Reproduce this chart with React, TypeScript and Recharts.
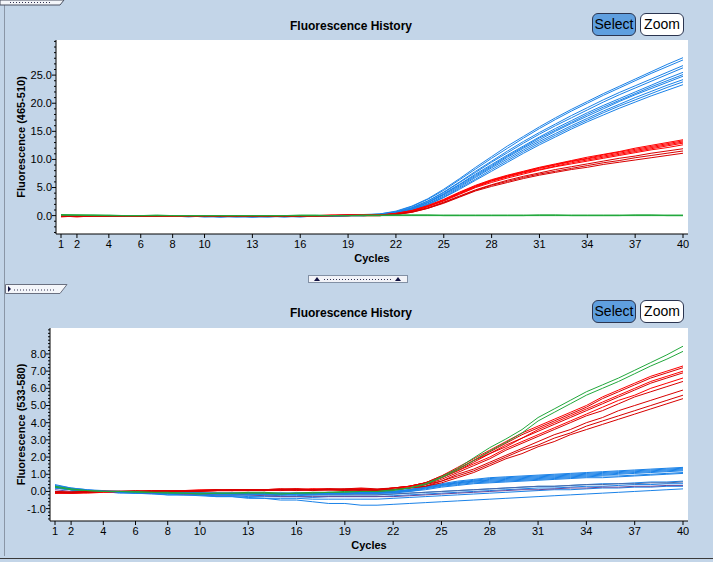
import React from 'react';
import { LineChart, Line, XAxis, YAxis, CartesianGrid, Label } from 'recharts';

const FONT = '"Liberation Sans", Arial, Helvetica, sans-serif';

const cycles = [1, 2, 3, 4, 5, 6, 7, 8, 9, 10, 11, 12, 13, 14, 15, 16, 17, 18, 19, 20, 21, 22, 23, 24, 25, 26, 27, 28, 29, 30, 31, 32, 33, 34, 35, 36, 37, 38, 39, 40];
const xTicks = [1, 2, 4, 6, 8, 10, 13, 16, 19, 22, 25, 28, 31, 34, 37, 40];

const topYTicks = [-3, -2, -1, 0, 1, 2, 3, 4, 5, 6, 7, 8, 9, 10, 11, 12, 13, 14, 15, 16, 17, 18, 19, 20, 21, 22, 23, 24, 25, 26, 27, 28, 29, 30, 31];
const topYMajor = [0, 5, 10, 15, 20, 25];
const botYTicks = [-1.6, -1.4, -1.2, -1.0, -0.8, -0.6, -0.4, -0.2, 0, 0.2, 0.4, 0.6, 0.8, 1.0, 1.2, 1.4, 1.6, 1.8, 2.0, 2.2, 2.4, 2.6, 2.8, 3.0, 3.2, 3.4, 3.6, 3.8, 4.0, 4.2, 4.4, 4.6, 4.8, 5.0, 5.2, 5.4, 5.6, 5.8, 6.0, 6.2, 6.4, 6.6, 6.8, 7.0, 7.2, 7.4, 7.6, 7.8, 8.0, 8.2, 8.4, 8.6, 8.8, 9.0, 9.2, 9.4];
const botYMajor = [-1, 0, 1, 2, 3, 4, 5, 6, 7, 8];

// ---------- Top panel: Fluorescence (465-510) ----------
const topBlue = [
  [0.0, -0.1, -0.1, 0.0, 0.0, -0.1, 0.0, 0.0, -0.1, -0.1, -0.2, -0.1, -0.2, -0.2, -0.1, -0.1, 0.0, 0.0, 0.1, 0.2, 0.3, 0.8, 1.7, 3.0, 4.7, 6.6, 8.6, 10.5, 12.4, 14.1, 15.8, 17.4, 18.9, 20.3, 21.7, 23.0, 24.3, 25.6, 26.9, 28.1],
  [0.0, 0.0, -0.1, -0.1, 0.0, 0.0, -0.1, 0.0, -0.1, -0.2, -0.2, -0.2, -0.1, -0.1, -0.2, -0.1, -0.1, 0.0, 0.0, 0.1, 0.3, 0.7, 1.6, 2.9, 4.5, 6.4, 8.3, 10.2, 12.0, 13.8, 15.5, 17.1, 18.6, 20.0, 21.4, 22.7, 24.0, 25.3, 26.5, 27.7],
  [-0.1, -0.1, 0.0, 0.0, -0.1, -0.1, 0.0, -0.1, -0.1, -0.1, -0.2, -0.2, -0.2, -0.1, -0.1, -0.2, -0.1, 0.0, 0.0, 0.1, 0.2, 0.6, 1.4, 2.6, 4.2, 6.0, 7.9, 9.7, 11.5, 13.2, 14.8, 16.3, 17.8, 19.2, 20.6, 21.9, 23.1, 24.3, 25.5, 26.7],
  [0.0, 0.0, 0.0, -0.1, -0.1, 0.0, 0.0, -0.1, -0.2, -0.1, -0.1, -0.2, -0.2, -0.2, -0.1, -0.1, -0.1, -0.1, 0.0, 0.1, 0.2, 0.6, 1.4, 2.6, 4.1, 5.9, 7.7, 9.5, 11.2, 12.9, 14.5, 16.0, 17.4, 18.8, 20.2, 21.5, 22.7, 23.9, 25.1, 26.3],
  [-0.1, 0.0, 0.0, 0.0, -0.1, -0.1, -0.1, 0.0, 0.0, -0.1, -0.2, -0.1, -0.1, -0.2, -0.2, -0.1, 0.0, 0.0, 0.0, 0.1, 0.2, 0.5, 1.3, 2.4, 3.9, 5.6, 7.4, 9.1, 10.8, 12.4, 14.0, 15.5, 16.9, 18.3, 19.6, 20.8, 22.0, 23.2, 24.4, 25.5],
  [0.0, -0.1, -0.1, -0.1, 0.0, 0.0, 0.0, -0.1, -0.1, -0.2, -0.1, -0.1, -0.2, -0.1, -0.1, -0.1, -0.1, 0.0, 0.1, 0.1, 0.2, 0.5, 1.2, 2.3, 3.8, 5.5, 7.2, 8.9, 10.6, 12.2, 13.8, 15.2, 16.6, 18.0, 19.3, 20.5, 21.7, 22.9, 24.0, 25.1],
  [0.0, 0.0, -0.1, 0.0, 0.0, -0.1, -0.1, -0.1, 0.0, -0.1, -0.1, -0.2, -0.2, -0.1, -0.2, -0.2, -0.1, -0.1, 0.0, 0.0, 0.1, 0.5, 1.2, 2.3, 3.7, 5.3, 7.0, 8.7, 10.4, 12.0, 13.5, 15.0, 16.4, 17.7, 19.0, 20.3, 21.5, 22.6, 23.7, 24.8],
  [-0.1, -0.1, 0.0, -0.1, -0.1, 0.0, -0.1, 0.0, -0.1, -0.1, -0.2, -0.1, -0.1, -0.1, -0.2, -0.1, -0.1, 0.0, 0.0, 0.0, 0.1, 0.4, 1.1, 2.1, 3.5, 5.1, 6.8, 8.5, 10.1, 11.7, 13.2, 14.6, 16.0, 17.3, 18.6, 19.8, 21.0, 22.1, 23.2, 24.2],
  [0.0, 0.0, 0.0, 0.0, -0.1, -0.1, 0.0, -0.1, -0.1, -0.2, -0.2, -0.1, -0.2, -0.2, -0.1, -0.1, 0.0, -0.1, 0.0, 0.0, 0.1, 0.4, 1.0, 2.0, 3.3, 4.9, 6.5, 8.2, 9.8, 11.4, 12.9, 14.3, 15.7, 17.0, 18.3, 19.5, 20.6, 21.7, 22.8, 23.8],
  [-0.1, 0.0, -0.1, -0.1, 0.0, -0.1, -0.1, -0.1, -0.2, -0.1, -0.1, -0.1, -0.2, -0.1, -0.1, -0.2, -0.1, -0.1, 0.0, 0.0, 0.1, 0.4, 1.0, 1.9, 3.2, 4.7, 6.3, 7.9, 9.5, 11.1, 12.6, 14.0, 15.4, 16.7, 17.9, 19.1, 20.2, 21.3, 22.3, 23.3],
];

const topRed = [
  [-0.1, -0.1, 0.0, 0.0, 0.0, -0.1, -0.1, 0.0, 0.0, 0.0, -0.1, -0.1, 0.0, -0.1, -0.1, 0.0, 0.0, 0.1, 0.1, 0.1, 0.1, 0.4, 0.9, 1.8, 2.9, 4.2, 5.4, 6.4, 7.2, 7.9, 8.6, 9.2, 9.8, 10.4, 10.9, 11.4, 12.0, 12.5, 13.0, 13.5],
  [-0.1, -0.2, -0.1, 0.0, 0.0, 0.0, -0.1, -0.1, 0.0, 0.0, 0.0, -0.1, -0.1, 0.0, -0.1, -0.1, 0.0, 0.0, 0.1, 0.1, 0.1, 0.4, 0.9, 1.7, 2.8, 4.1, 5.3, 6.3, 7.1, 7.8, 8.5, 9.1, 9.7, 10.2, 10.8, 11.3, 11.8, 12.3, 12.8, 13.3],
  [-0.2, -0.1, -0.1, -0.1, 0.0, 0.0, 0.0, -0.1, -0.1, 0.0, 0.0, 0.0, -0.1, -0.1, 0.0, 0.0, -0.1, 0.0, 0.0, 0.1, 0.1, 0.3, 0.8, 1.7, 2.7, 4.0, 5.2, 6.2, 7.0, 7.7, 8.4, 9.0, 9.6, 10.1, 10.6, 11.1, 11.6, 12.1, 12.6, 13.1],
  [-0.1, -0.1, 0.0, 0.0, -0.1, -0.1, 0.0, 0.0, 0.0, -0.1, -0.1, 0.0, 0.0, 0.0, -0.1, 0.0, 0.0, 0.1, 0.1, 0.1, 0.1, 0.3, 0.8, 1.6, 2.7, 3.9, 5.1, 6.1, 6.9, 7.6, 8.2, 8.8, 9.4, 9.9, 10.4, 10.9, 11.4, 11.9, 12.4, 12.9],
  [-0.1, -0.1, -0.1, 0.0, 0.0, 0.0, 0.0, -0.1, 0.0, 0.0, -0.1, -0.1, -0.1, 0.0, 0.0, -0.1, 0.0, 0.0, 0.0, 0.1, 0.1, 0.3, 0.8, 1.6, 2.6, 3.8, 5.0, 5.9, 6.7, 7.4, 8.1, 8.7, 9.2, 9.7, 10.2, 10.7, 11.2, 11.7, 12.1, 12.6],
  [-0.1, -0.2, -0.1, -0.1, 0.0, -0.1, 0.0, 0.0, -0.1, 0.0, 0.0, 0.0, -0.1, -0.1, -0.1, 0.0, 0.0, 0.0, 0.1, 0.0, 0.0, 0.2, 0.7, 1.4, 2.4, 3.5, 4.6, 5.5, 6.3, 7.0, 7.6, 8.2, 8.7, 9.2, 9.7, 10.2, 10.6, 11.1, 11.5, 11.9],
  [-0.1, -0.1, 0.0, -0.1, -0.1, 0.0, 0.0, 0.0, 0.0, -0.1, 0.0, -0.1, 0.0, 0.0, -0.1, -0.1, 0.0, 0.0, 0.0, 0.0, 0.0, 0.2, 0.6, 1.3, 2.3, 3.4, 4.5, 5.4, 6.1, 6.8, 7.4, 7.9, 8.4, 8.9, 9.4, 9.8, 10.3, 10.7, 11.1, 11.5],
  [-0.2, -0.1, -0.1, 0.0, 0.0, -0.1, -0.1, 0.0, 0.0, 0.0, -0.1, 0.0, 0.0, -0.1, 0.0, 0.0, -0.1, 0.0, 0.0, 0.0, 0.0, 0.2, 0.6, 1.3, 2.2, 3.3, 4.4, 5.2, 5.9, 6.6, 7.2, 7.7, 8.2, 8.6, 9.1, 9.5, 9.9, 10.3, 10.7, 11.1],
];

const topGreen = [
  [0.1, 0.1, 0.1, 0.0, 0.0, 0.0, 0.0, 0.0, 0.0, 0.0, 0.0, 0.0, 0.0, 0.0, 0.0, 0.0, 0.0, 0.0, 0.0, 0.0, 0.0, 0.0, 0.0, 0.0, 0.0, 0.0, 0.0, 0.0, 0.0, 0.0, 0.0, 0.0, 0.0, 0.0, 0.0, 0.0, 0.0, 0.0, 0.0, 0.0],
  [0.2, 0.1, 0.1, 0.1, 0.0, 0.0, 0.0, 0.0, 0.0, 0.0, 0.0, 0.0, 0.0, 0.0, 0.0, 0.0, 0.0, 0.0, 0.0, 0.0, 0.0, 0.1, 0.1, 0.1, 0.0, 0.0, 0.0, 0.0, 0.0, 0.0, 0.1, 0.1, 0.0, 0.0, 0.0, 0.0, 0.1, 0.1, 0.0, 0.0],
  [0.1, 0.1, 0.0, 0.0, 0.0, 0.0, 0.1, 0.0, 0.0, 0.0, 0.0, 0.0, 0.0, 0.0, 0.0, 0.1, 0.1, 0.0, 0.0, 0.1, 0.1, 0.1, 0.1, 0.1, 0.1, 0.1, 0.1, 0.1, 0.1, 0.1, 0.1, 0.1, 0.1, 0.1, 0.1, 0.1, 0.1, 0.1, 0.1, 0.1],
];

// ---------- Bottom panel: Fluorescence (533-580) ----------
const botGreen = [
  [0.3, 0.15, 0.05, 0.0, 0.0, 0.0, -0.05, -0.05, -0.1, -0.1, -0.1, -0.1, -0.05, -0.05, -0.1, -0.1, -0.05, -0.05, 0.0, 0.0, 0.0, 0.1, 0.2, 0.45, 0.85, 1.35, 1.95, 2.55, 3.05, 3.6, 4.3, 4.8, 5.3, 5.8, 6.2, 6.6, 7.05, 7.5, 7.95, 8.45],
  [0.25, 0.1, 0.05, 0.0, 0.0, -0.05, -0.05, -0.1, -0.1, -0.15, -0.1, -0.1, -0.1, -0.1, -0.15, -0.1, -0.1, -0.05, -0.05, 0.0, 0.0, 0.05, 0.2, 0.4, 0.8, 1.25, 1.8, 2.35, 2.85, 3.4, 4.1, 4.6, 5.1, 5.6, 6.0, 6.4, 6.85, 7.3, 7.7, 8.15],
];

const botRed = [
  [-0.05, -0.1, -0.05, 0.0, 0.0, 0.0, 0.0, 0.05, 0.05, 0.1, 0.1, 0.05, 0.1, 0.1, 0.15, 0.1, 0.15, 0.15, 0.1, 0.15, 0.1, 0.2, 0.3, 0.5, 0.9, 1.4, 1.9, 2.4, 2.9, 3.4, 3.8, 4.2, 4.6, 5.0, 5.5, 5.9, 6.3, 6.7, 7.0, 7.3],
  [0.0, -0.05, -0.05, 0.0, 0.0, 0.05, 0.0, 0.0, 0.05, 0.05, 0.1, 0.1, 0.1, 0.05, 0.1, 0.15, 0.1, 0.1, 0.15, 0.15, 0.1, 0.2, 0.3, 0.5, 0.9, 1.3, 1.8, 2.3, 2.8, 3.3, 3.7, 4.1, 4.5, 4.9, 5.4, 5.8, 6.2, 6.6, 6.9, 7.2],
  [-0.1, -0.1, -0.05, -0.05, 0.0, 0.0, 0.05, 0.05, 0.0, 0.05, 0.05, 0.1, 0.05, 0.1, 0.1, 0.1, 0.15, 0.1, 0.1, 0.1, 0.1, 0.2, 0.3, 0.5, 0.8, 1.3, 1.8, 2.2, 2.7, 3.1, 3.6, 4.0, 4.4, 4.8, 5.2, 5.6, 6.0, 6.4, 6.7, 7.0],
  [-0.05, -0.05, 0.0, 0.0, 0.0, 0.0, 0.0, 0.0, 0.05, 0.05, 0.05, 0.1, 0.1, 0.1, 0.05, 0.1, 0.1, 0.15, 0.15, 0.2, 0.15, 0.2, 0.3, 0.5, 0.8, 1.2, 1.7, 2.2, 2.6, 3.1, 3.5, 3.9, 4.3, 4.7, 5.1, 5.5, 5.9, 6.3, 6.6, 6.9],
  [-0.1, -0.1, -0.1, -0.05, 0.0, 0.0, 0.0, 0.0, 0.0, 0.05, 0.05, 0.05, 0.1, 0.1, 0.1, 0.15, 0.1, 0.1, 0.1, 0.15, 0.1, 0.1, 0.3, 0.4, 0.8, 1.2, 1.6, 2.0, 2.5, 2.9, 3.3, 3.7, 4.1, 4.5, 4.9, 5.3, 5.6, 6.0, 6.3, 6.6],
  [0.0, -0.05, 0.0, 0.0, 0.0, 0.0, 0.05, 0.05, 0.05, 0.0, 0.05, 0.1, 0.1, 0.1, 0.15, 0.15, 0.1, 0.15, 0.1, 0.1, 0.1, 0.1, 0.2, 0.4, 0.7, 1.1, 1.5, 1.9, 2.4, 2.8, 3.2, 3.6, 4.0, 4.4, 4.7, 5.1, 5.5, 5.8, 6.1, 6.4],
  [-0.05, -0.1, -0.05, 0.0, 0.0, 0.0, 0.0, 0.0, 0.0, 0.05, 0.1, 0.05, 0.05, 0.1, 0.1, 0.1, 0.1, 0.1, 0.05, 0.1, 0.05, 0.1, 0.2, 0.4, 0.6, 1.0, 1.3, 1.7, 2.1, 2.5, 2.9, 3.3, 3.6, 4.0, 4.3, 4.7, 5.0, 5.3, 5.6, 5.9],
  [-0.1, -0.05, 0.0, 0.0, 0.0, 0.0, 0.0, 0.05, 0.05, 0.05, 0.05, 0.05, 0.1, 0.05, 0.1, 0.1, 0.05, 0.1, 0.1, 0.1, 0.05, 0.1, 0.2, 0.3, 0.6, 0.9, 1.2, 1.6, 2.0, 2.4, 2.7, 3.1, 3.4, 3.8, 4.1, 4.4, 4.7, 5.0, 5.3, 5.6],
  [-0.05, -0.05, -0.05, 0.0, 0.0, 0.0, 0.0, 0.0, 0.0, 0.0, 0.05, 0.05, 0.05, 0.05, 0.1, 0.05, 0.1, 0.1, 0.1, 0.05, 0.0, 0.1, 0.2, 0.3, 0.5, 0.8, 1.1, 1.5, 1.9, 2.2, 2.6, 2.9, 3.3, 3.6, 3.9, 4.2, 4.5, 4.8, 5.1, 5.4],
];

const botBlue = [
  [0.4, 0.2, 0.1, 0.05, 0.0, 0.0, 0.0, -0.05, -0.1, -0.1, -0.1, -0.1, -0.1, -0.1, -0.15, -0.1, -0.1, -0.1, -0.1, -0.1, -0.05, 0.0, 0.1, 0.3, 0.45, 0.6, 0.7, 0.8, 0.85, 0.9, 0.95, 1.0, 1.05, 1.1, 1.15, 1.2, 1.25, 1.3, 1.35, 1.4],
  [0.35, 0.2, 0.1, 0.0, 0.0, 0.0, -0.05, -0.05, -0.05, -0.1, -0.1, -0.15, -0.1, -0.1, -0.1, -0.1, -0.15, -0.1, -0.1, -0.1, -0.05, 0.0, 0.1, 0.25, 0.4, 0.55, 0.65, 0.75, 0.8, 0.85, 0.9, 0.95, 1.0, 1.05, 1.1, 1.15, 1.2, 1.25, 1.3, 1.35],
  [0.3, 0.15, 0.05, 0.0, 0.0, -0.05, -0.05, -0.05, -0.1, -0.1, -0.15, -0.1, -0.1, -0.15, -0.1, -0.1, -0.1, -0.05, -0.1, -0.05, -0.05, 0.0, 0.1, 0.25, 0.4, 0.5, 0.6, 0.7, 0.75, 0.8, 0.85, 0.9, 0.95, 1.0, 1.05, 1.1, 1.15, 1.2, 1.25, 1.3],
  [0.25, 0.15, 0.05, 0.0, -0.05, -0.05, -0.05, -0.1, -0.1, -0.1, -0.1, -0.1, -0.15, -0.15, -0.15, -0.1, -0.1, -0.1, -0.1, -0.1, -0.1, -0.05, 0.05, 0.2, 0.35, 0.5, 0.6, 0.65, 0.7, 0.75, 0.8, 0.85, 0.9, 0.95, 1.0, 1.05, 1.1, 1.15, 1.2, 1.25],
  [0.3, 0.1, 0.05, 0.0, 0.0, 0.0, -0.05, -0.05, -0.05, -0.1, -0.1, -0.1, -0.1, -0.1, -0.1, -0.15, -0.1, -0.1, -0.15, -0.1, -0.1, -0.05, 0.05, 0.2, 0.35, 0.45, 0.55, 0.6, 0.65, 0.7, 0.75, 0.8, 0.85, 0.9, 0.95, 1.0, 1.05, 1.1, 1.15, 1.2],
  [0.2, 0.1, 0.0, 0.0, 0.0, -0.05, -0.1, -0.1, -0.1, -0.15, -0.15, -0.15, -0.1, -0.15, -0.2, -0.15, -0.15, -0.15, -0.1, -0.1, -0.1, -0.05, 0.0, 0.15, 0.3, 0.4, 0.5, 0.55, 0.6, 0.65, 0.7, 0.75, 0.8, 0.85, 0.9, 0.9, 0.95, 1.0, 1.05, 1.1],
  [0.25, 0.1, 0.05, 0.0, -0.05, -0.05, -0.05, -0.1, -0.1, -0.1, -0.15, -0.2, -0.2, -0.15, -0.15, -0.2, -0.2, -0.15, -0.15, -0.1, -0.1, -0.1, 0.0, 0.1, 0.25, 0.35, 0.45, 0.5, 0.55, 0.6, 0.65, 0.7, 0.75, 0.8, 0.8, 0.85, 0.9, 0.95, 1.0, 1.05],
];

const botBlueThin = [
  [0.3, 0.1, 0.0, 0.0, 0.0, -0.1, -0.1, -0.1, -0.1, -0.2, -0.2, -0.2, -0.2, -0.2, -0.25, -0.25, -0.2, -0.2, -0.2, -0.2, -0.2, -0.15, -0.1, -0.05, 0.0, 0.05, 0.1, 0.15, 0.2, 0.25, 0.3, 0.3, 0.35, 0.4, 0.45, 0.45, 0.5, 0.55, 0.55, 0.6],
  [0.2, 0.1, 0.0, 0.0, -0.05, -0.1, -0.1, -0.15, -0.2, -0.2, -0.25, -0.25, -0.3, -0.3, -0.3, -0.3, -0.35, -0.3, -0.3, -0.3, -0.3, -0.25, -0.2, -0.15, -0.1, -0.05, 0.0, 0.05, 0.1, 0.15, 0.2, 0.2, 0.25, 0.3, 0.3, 0.35, 0.4, 0.4, 0.45, 0.45],
  [0.25, 0.1, 0.05, 0.0, -0.05, -0.1, -0.15, -0.2, -0.2, -0.25, -0.3, -0.3, -0.35, -0.4, -0.4, -0.4, -0.45, -0.45, -0.45, -0.45, -0.45, -0.4, -0.35, -0.3, -0.25, -0.2, -0.15, -0.1, -0.05, 0.0, 0.05, 0.1, 0.1, 0.15, 0.2, 0.2, 0.25, 0.25, 0.3, 0.3],
  [0.2, 0.1, 0.0, 0.0, -0.1, -0.1, -0.1, -0.2, -0.2, -0.2, -0.3, -0.3, -0.4, -0.4, -0.5, -0.5, -0.6, -0.7, -0.7, -0.8, -0.8, -0.75, -0.7, -0.65, -0.6, -0.55, -0.5, -0.45, -0.4, -0.35, -0.3, -0.25, -0.2, -0.15, -0.1, -0.05, 0.0, 0.05, 0.1, 0.15],
];

const botSteel = [
  [0.3, 0.15, 0.05, 0.0, 0.0, -0.05, -0.05, -0.1, -0.1, -0.1, -0.15, -0.15, -0.2, -0.2, -0.2, -0.15, -0.2, -0.2, -0.2, -0.2, -0.2, -0.15, -0.1, -0.05, 0.0, 0.05, 0.1, 0.15, 0.2, 0.25, 0.3, 0.3, 0.35, 0.4, 0.4, 0.45, 0.45, 0.5, 0.5, 0.55],
  [0.1, 0.0, 0.0, 0.0, -0.05, -0.05, -0.1, -0.1, -0.15, -0.15, -0.2, -0.2, -0.2, -0.25, -0.3, -0.3, -0.3, -0.3, -0.3, -0.3, -0.3, -0.3, -0.25, -0.2, -0.15, -0.1, -0.05, 0.0, 0.05, 0.1, 0.1, 0.15, 0.2, 0.2, 0.25, 0.25, 0.3, 0.3, 0.35, 0.35],
];

const BLUE = '#1a82e8';
const RED = '#ff0000';
const RED_DARK = '#d80000';
const GREEN = '#22a83c';
const STEEL = '#4a6aa8';
const PURPLE = '#6a4a9c';
const PANEL_BG = '#c3d5e8';

type Group = { prefix: string; curves: number[][]; colors: string[] };

function buildRows(groups: Group[]) {
  return cycles.map((c, i) => {
    const row: Record<string, number> = { cycle: c };
    groups.forEach((g) => g.curves.forEach((arr, k) => { row[g.prefix + k] = arr[i]; }));
    return row;
  });
}

function seriesOf(groups: Group[]) {
  const out: { key: string; color: string }[] = [];
  groups.forEach((g) => g.curves.forEach((_, k) => out.push({ key: g.prefix + k, color: g.colors[k % g.colors.length] })));
  return out;
}

const topGroups: Group[] = [
  { prefix: 'b', curves: topBlue, colors: [BLUE] },
  { prefix: 'r', curves: topRed, colors: [RED, RED, RED, RED, RED, RED_DARK, RED_DARK, RED_DARK] },
  { prefix: 'g', curves: topGreen, colors: [GREEN] },
];
const botGroups: Group[] = [
  { prefix: 'tb', curves: botBlueThin, colors: [BLUE] },
  { prefix: 's', curves: botSteel, colors: [STEEL, PURPLE] },
  { prefix: 'b', curves: botBlue, colors: [BLUE] },
  { prefix: 'r', curves: botRed, colors: [RED, RED_DARK, RED, RED_DARK, RED, RED_DARK, RED_DARK, RED_DARK, RED_DARK] },
  { prefix: 'g', curves: botGreen, colors: [GREEN] },
];

const topRows = buildRows(topGroups);
const botRows = buildRows(botGroups);
const topSeries = seriesOf(topGroups);
const botSeries = seriesOf(botGroups);

function makeYTick(majors: number[]) {
  return (props: any) => {
    const { x, y, payload } = props;
    const v = Number(payload.value);
    const major = majors.some((m) => Math.abs(m - v) < 1e-6);
    const ax = x + 6;
    return (
      <g>
        <line x1={ax - (major ? 4 : 2)} x2={ax} y1={y} y2={y} stroke="#000" strokeWidth={1} />
        {major && (
          <text x={ax - 4} y={y} dy="0.36em" textAnchor="end" fontSize={11} fontFamily={FONT} fill="#000">
            {v.toFixed(1)}
          </text>
        )}
      </g>
    );
  };
}

function yTitle(text: string, dx: number) {
  return (p: any) => {
    const vb = p.viewBox || { x: 0, y: 0, width: 0, height: 0 };
    const cx = vb.x + dx;
    const cy = vb.y + vb.height / 2;
    return (
      <text x={cx} y={cy} transform={`rotate(-90 ${cx} ${cy})`} textAnchor="middle" dominantBaseline="central"
        fontSize={11} fontWeight="bold" fontFamily={FONT} fill="#000">
        {text}
      </text>
    );
  };
}

type PanelProps = {
  rows: Record<string, number>[];
  series: { key: string; color: string }[];
  height: number;
  margin: { top: number; right: number; bottom: number; left: number };
  yWidth: number;
  yDomain: [number, number];
  yTicks: number[];
  yMajor: number[];
  yLabel: string;
};

function Panel(p: PanelProps) {
  return (
    <LineChart width={713} height={p.height} data={p.rows} margin={p.margin}>
      <CartesianGrid fill="#ffffff" horizontal={false} vertical={false} />
      <XAxis dataKey="cycle" type="number" domain={[1, 40]} ticks={xTicks} interval={0}
        padding={{ left: 5, right: 5 }} height={30} tickSize={4} tickMargin={2}
        axisLine={{ stroke: '#000' }} tickLine={{ stroke: '#000' }}
        tick={{ fontSize: 11, fill: '#000', fontFamily: FONT }} allowDataOverflow>
        <Label value="Cycles" position="insideBottom" offset={2} fontSize={11} fontWeight="bold" fill="#000" fontFamily={FONT} />
      </XAxis>
      <XAxis xAxisId="top" orientation="top" type="number" domain={[0, 1]} height={0} tick={false} tickLine={false} axisLine={{ stroke: '#000' }} />
      <YAxis type="number" domain={p.yDomain} ticks={p.yTicks} interval={0} width={p.yWidth}
        tickSize={4} tickMargin={2} tickLine={false} axisLine={{ stroke: '#000' }}
        tick={makeYTick(p.yMajor)} allowDataOverflow>
        <Label content={yTitle(p.yLabel, 15)} />
      </YAxis>
      <YAxis yAxisId="right" orientation="right" type="number" domain={[0, 1]} width={0} tick={false} tickLine={false} axisLine={{ stroke: '#000' }} />
      {p.series.map((s) => (
        <Line key={s.key} dataKey={s.key} stroke={s.color} strokeWidth={1} dot={false} activeDot={false} isAnimationActive={false} />
      ))}
    </LineChart>
  );
}

const btnBase: React.CSSProperties = {
  position: 'absolute', width: 42, height: 21, border: '1px solid #2b3550', borderRadius: 6,
  fontFamily: FONT, fontSize: 14, lineHeight: '21px', textAlign: 'center', color: '#000',
};

function Buttons({ top }: { top: number }) {
  return (
    <>
      <div style={{ ...btnBase, left: 592, top, background: '#5f9fdf' }}>Select</div>
      <div style={{ ...btnBase, left: 640, top, background: '#ffffff' }}>Zoom</div>
    </>
  );
}

function Title({ top }: { top: number }) {
  return (
    <div style={{ position: 'absolute', left: 251, width: 200, top, textAlign: 'center', fontFamily: FONT, fontSize: 12, fontWeight: 'bold', color: '#000', lineHeight: '14px' }}>
      Fluorescence History
    </div>
  );
}

export default function App() {
  return (
    <div style={{ position: 'absolute', left: 0, top: 0, width: 713, height: 562, background: PANEL_BG, overflow: 'hidden' }}>
      {/* window chrome */}
      <svg width={713} height={562} style={{ position: 'absolute', left: 0, top: 0 }}>
        <line x1={4.5} y1={0} x2={4.5} y2={556} stroke="#8a96a6" />
        <line x1={0} y1={558.5} x2={713} y2={558.5} stroke="#3a3a3a" />
        <polygon points="0,0 64,0 60,5 0,5" fill="#f4f6fa" stroke="#4a5060" />
        <line x1={10} y1={2.5} x2={52} y2={2.5} stroke="#303050" strokeDasharray="1 2" />
        <polygon points="5.5,284.5 67,284.5 60,293.5 5.5,293.5" fill="#f4f6fa" stroke="#6a7080" />
        <polygon points="8,286 11,289 8,292" fill="#101040" />
        <line x1={14} y1={290} x2={56} y2={290} stroke="#303050" strokeDasharray="1 2" />
        <rect x={308.5} y={275.5} width={99} height={7} fill="#f2f3f8" stroke="#8290a4" />
        <polygon points="314,281 317,277 320,281" fill="#101040" />
        <polygon points="395,281 398,277 401,281" fill="#101040" />
        <line x1={324} y1={279.5} x2={392} y2={279.5} stroke="#303050" strokeDasharray="1 2" />
      </svg>
      <Title top={19} />
      <Buttons top={13} />
      <div style={{ position: 'absolute', left: 0, top: 0 }}>
        <Panel rows={topRows} series={topSeries} height={270}
          margin={{ top: 40, right: 25, bottom: 6, left: 6 }} yWidth={50}
          yDomain={[-3.27, 31.25]} yTicks={topYTicks} yMajor={topYMajor} yLabel="Fluorescence (465-510)" />
      </div>
      <Title top={306} />
      <Buttons top={300} />
      <div style={{ position: 'absolute', left: 0, top: 280 }}>
        <Panel rows={botRows} series={botSeries} height={282}
          margin={{ top: 48, right: 25, bottom: 11, left: 6 }} yWidth={44}
          yDomain={[-1.72, 9.51]} yTicks={botYTicks} yMajor={botYMajor} yLabel="Fluorescence (533-580)" />
      </div>
    </div>
  );
}
